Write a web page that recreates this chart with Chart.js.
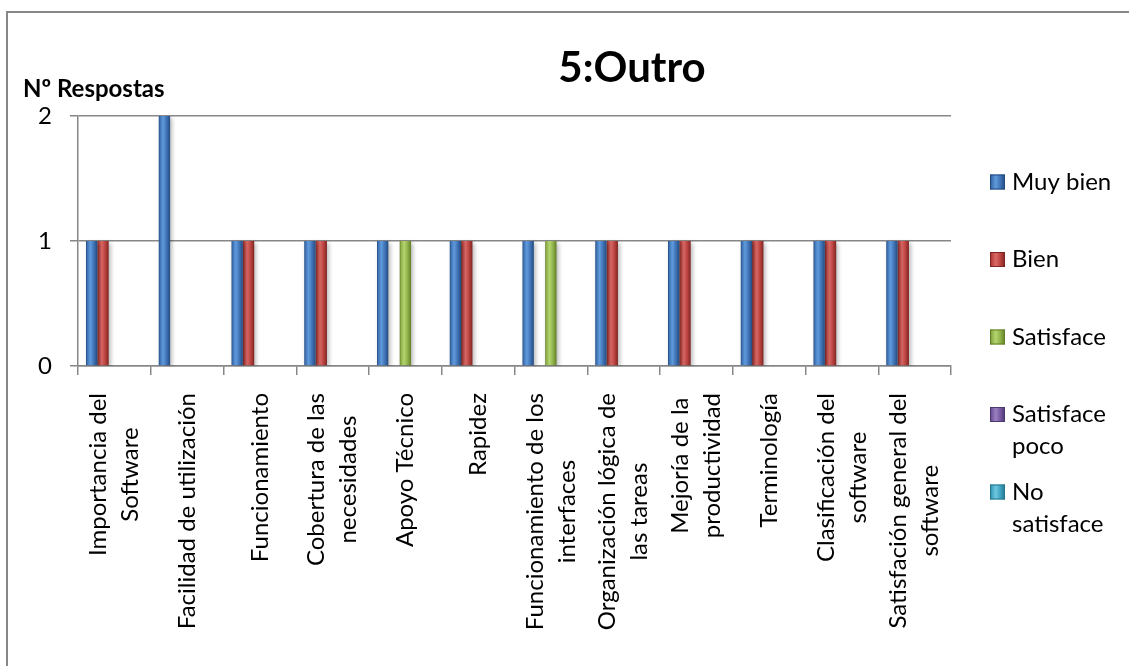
<!DOCTYPE html>
<html>
<head>
<meta charset="utf-8">
<title>5:Outro</title>
<script src="https://cdn.jsdelivr.net/npm/chart.js@4.4.1/dist/chart.umd.min.js"></script>
<style>
    html, body { margin: 0; padding: 0; background: #fff; }
    #wrap { position: relative; width: 1129px; height: 666px; }
</style>
</head>
<body>
<div id="wrap"><canvas id="chart"></canvas></div>
<script>
// Categorías (cada una ya partida en líneas)
const categories = [
    ['Importancia del', 'Software'],
    ['Facilidad de utilización'],
    ['Funcionamiento'],
    ['Cobertura de las', 'necesidades'],
    ['Apoyo Técnico'],
    ['Rapidez'],
    ['Funcionamiento de los', 'interfaces'],
    ['Organización lógica de', 'las tareas'],
    ['Mejoría de la', 'productividad'],
    ['Terminología'],
    ['Clasificación del', 'software'],
    ['Satisfación general del', 'software']
];

const seriesNames = ['Muy bien', 'Bien', 'Satisface', 'Satisface poco', 'No satisface'];

// Nº de respuestas por serie
const muyBien       = [1, 2, 1, 1, 1, 1, 1, 1, 1, 1, 1, 1];
const bien          = [1, 0, 1, 1, 0, 1, 0, 1, 1, 1, 1, 1];
const satisface     = [0, 0, 0, 0, 1, 0, 1, 0, 0, 0, 0, 0];
const satisfacePoco = [0, 0, 0, 0, 0, 0, 0, 0, 0, 0, 0, 0];
const noSatisface   = [0, 0, 0, 0, 0, 0, 0, 0, 0, 0, 0, 0];

const yTicks = [0, 1, 2];

const FONT = 'Lato, "Open Sans", sans-serif';
const AXIS_GREY = '#878787';

// Colores tipo Office: [base, claro, oscuro]
const palette = [
    ['#3F72B4', '#609BDD', '#234B80'],
    ['#BA423F', '#DA6A66', '#7E2522'],
    ['#8FB14A', '#B3D46E', '#617F27'],
    ['#7558A0', '#9A80C0', '#4E3870'],
    ['#3FA3BF', '#6FC7DF', '#25778D']
];

function shadeFill(c, x0, x1, colors) {
    const g = c.createLinearGradient(x0, 0, x1, 0);
    g.addColorStop(0, colors[2]);
    g.addColorStop(0.12, colors[0]);
    g.addColorStop(0.38, colors[1]);
    g.addColorStop(0.7, colors[0]);
    g.addColorStop(1, colors[2]);
    return g;
}

// Relleno "cilíndrico" de cada barra
function barFill(colors) {
    return (context) => {
        const el = context.element;
        if (!el || typeof el.x !== 'number' || !el.width) return colors[0];
        return shadeFill(context.chart.ctx, el.x - el.width / 2, el.x + el.width / 2, colors);
    };
}

const seriesData = [muyBien, bien, satisface, satisfacePoco, noSatisface];

// Título, título del eje Y y marco
const decorPlugin = {
    id: 'decor',
    beforeDraw(chart) {
        const c = chart.ctx;
        c.save();
        c.fillStyle = '#fff';
        c.fillRect(0, 0, chart.width, chart.height);
        c.strokeStyle = AXIS_GREY;
        c.lineWidth = 2;
        c.strokeRect(7, 12, chart.width + 20, chart.height + 20);
        c.restore();
    },
    // sombra suave bajo las barras
    beforeDatasetsDraw(chart) {
        const c = chart.ctx;
        c.save();
        c.shadowColor = 'rgba(0, 0, 0, 0.28)';
        c.shadowBlur = 4;
        c.shadowOffsetX = 2;
        c.shadowOffsetY = 2;
    },
    afterDatasetsDraw(chart) {
        chart.ctx.restore();
    },
    afterDraw(chart) {
        const c = chart.ctx;
        c.save();
        c.fillStyle = '#000';
        c.textBaseline = 'middle';
        c.textAlign = 'center';
        c.font = `bold 42px ${FONT}`;
        c.fillText('5:Outro', 632, 68);
        c.textAlign = 'left';
        c.font = `bold 24px ${FONT}`;
        c.fillText('Nº Respostas', 23, 89);
        c.restore();
    }
};

// Etiquetas del eje X giradas, líneas centradas entre sí
const xLabelPlugin = {
    id: 'xLabels',
    afterDraw(chart) {
        const c = chart.ctx;
        const xs = chart.scales.x;
        const lineH = 32;
        const top = 393;
        c.save();
        c.font = `24px ${FONT}`;
        c.fillStyle = '#000';
        c.textAlign = 'center';
        c.textBaseline = 'middle';
        categories.forEach((lines, i) => {
            const cx = xs.getPixelForValue(i);
            const longest = Math.max(...lines.map(l => c.measureText(l).width));
            const cy = top + longest / 2;
            lines.forEach((line, j) => {
                c.save();
                c.translate(cx + (j - (lines.length - 1) / 2) * lineH, cy);
                c.rotate(-Math.PI / 2);
                c.fillText(line, 0, 0);
                c.restore();
            });
        });
        c.restore();
    }
};

function wrapWords(c, text, maxW) {
    const words = text.split(' ');
    const out = [];
    let cur = '';
    words.forEach(w => {
        const test = cur ? cur + ' ' + w : w;
        if (cur && c.measureText(test).width > maxW) {
            out.push(cur);
            cur = w;
        } else {
            cur = test;
        }
    });
    if (cur) out.push(cur);
    return out;
}

// Leyenda a la derecha
const legendPlugin = {
    id: 'sideLegend',
    afterDraw(chart) {
        const c = chart.ctx;
        const boxX = 990, box = 15, textX = 1012;
        const firstY = 182, step = 77.5, lineH = 32;
        c.save();
        c.font = `24px ${FONT}`;
        c.textBaseline = 'middle';
        c.textAlign = 'left';
        seriesNames.forEach((name, i) => {
            const y = firstY + i * step;
            c.fillStyle = shadeFill(c, boxX, boxX + box, palette[i]);
            c.fillRect(boxX, y - box / 2, box, box);
            c.strokeStyle = palette[i][2];
            c.lineWidth = 1;
            c.strokeRect(boxX + 0.5, y - box / 2 + 0.5, box - 1, box - 1);
            c.fillStyle = '#000';
            wrapWords(c, name, 112).forEach((line, j) => {
                c.fillText(line, textX, y + j * lineH);
            });
        });
        c.restore();
    }
};

Chart.defaults.font.family = FONT;
Chart.defaults.color = '#000';

const chart = new Chart(document.getElementById('chart'), {
    type: 'bar',
    data: {
        labels: categories.map(l => l.join(' ')),
        datasets: seriesNames.map((name, i) => ({
            label: name,
            data: seriesData[i],
            backgroundColor: barFill(palette[i]),
            borderWidth: 0,
            categoryPercentage: 0.78,
            barPercentage: 1
        }))
    },
    options: {
        responsive: true,
        maintainAspectRatio: false,
        animation: false,
        layout: {
            padding: { left: 0, top: 116, right: 178, bottom: 0 }
        },
        plugins: {
            legend: { display: false },
            title: { display: false },
            tooltip: { enabled: false }
        },
        scales: {
            x: {
                grid: {
                    offset: true,
                    drawOnChartArea: false,
                    drawTicks: true,
                    tickLength: 9,
                    color: AXIS_GREY,
                    lineWidth: 1.5
                },
                border: { color: AXIS_GREY, width: 1.5 },
                ticks: { display: false },
                afterFit: (scale) => { scale.height = 300; }
            },
            y: {
                min: 0,
                max: 2,
                afterBuildTicks: (scale) => {
                    scale.ticks = yTicks.map(v => ({ value: v }));
                },
                grid: {
                    color: AXIS_GREY,
                    lineWidth: 1.5,
                    drawTicks: true,
                    tickLength: 8
                },
                border: { color: AXIS_GREY, width: 1.5 },
                ticks: {
                    padding: 18,
                    font: { size: 24 }
                },
                afterFit: (scale) => { scale.width = 78; }
            }
        }
    },
    plugins: [decorPlugin, xLabelPlugin, legendPlugin]
});

// segunda pasada para que los degradados usen la posición real de cada barra
chart.update('none');
</script>
</body>
</html>
